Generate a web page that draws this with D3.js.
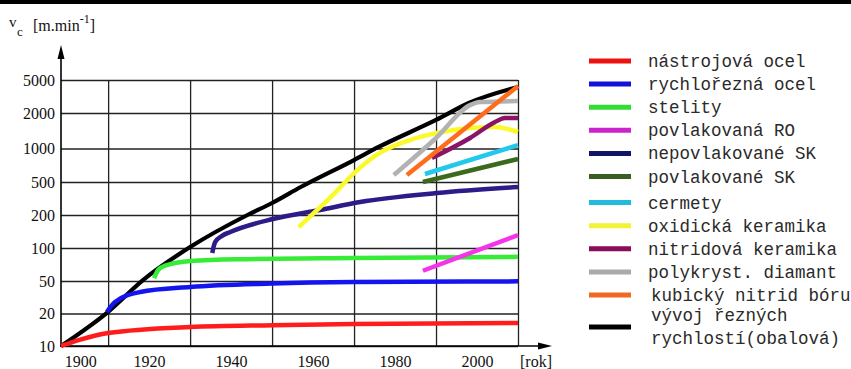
<!DOCTYPE html>
<html>
<head>
<meta charset="utf-8">
<script src="https://cdn.jsdelivr.net/npm/d3@7"></script>
<style>
  body { margin: 0; background: #fff; }
  svg { display: block; }
</style>
</head>
<body>
<svg id="chart" width="851" height="369"></svg>
<script>
// osa y: nestejnomerne logaritmicke deleni 1-2-5
var yTicks = [10, 20, 50, 100, 200, 500, 1000, 2000, 5000];
var xLabels = [1900, 1920, 1940, 1960, 1980, 2000];
var xGrid = [1910, 1930, 1950, 1970, 1990, 2010];

// [rok, vc]
var obalova = [[1898.5,10],[1910,21],[1918.5,51],[1930,102],[1944,200],[1950,279],[1957,435],[1970,788],[1976,1030],[1990,1745],[1998,2640],[2010,4120]];
var nastrojova = [[1898.5,10],[1903,11.4],[1910,13.2],[1930,15],[1950,15.6],[1970,16],[2010,16.3]];
var rychlorezna = [[1909.7,20.9],[1911.7,27.6],[1917.8,36.6],[1930,42.2],[1950,46.5],[1970,48.5],[2010,49.5]];
var stelity = [[1921.2,53],[1922.2,63],[1923.9,69],[1930.2,76],[1942,79],[1970,81],[2010,83]];
var povlakRO = [[1986.8,62],[2010,131]];
var nepovlakSK = [[1935.4,90],[1936.1,113],[1937.8,129],[1939.8,140],[1950.2,184],[1961.7,230],[1971.5,287],[1990.2,368],[2010,435]];
var povlakSK = [[1986.8,500],[2010,805]];
var cermety = [[1987.3,590],[2010,1070]];
var oxidicka = [[1956.5,155],[1964.1,321],[1971.4,670],[1976.3,913],[1983.6,1180],[1990,1350],[1998.3,1490],[2004.4,1520],[2010,1380]];
var nitridova = [[1989,821],[1998.3,1228],[2004.4,1678],[2006.8,1815],[2010,1815]];
var diamant = [[1979.7,578],[1990,1228],[1998.3,2490],[2000.7,2710],[2010,2790]];
var kubicky = [[1982.9,578],[2010,4230]];

var labels = ["nástrojová ocel", "rychlořezná ocel", "stelity", "povlakovaná RO",
  "nepovlakované SK", "povlakované SK", "cermety", "oxidická keramika",
  "nitridová keramika", "polykryst. diamant", "kubický nitrid bóru"];
var lineColors = ["#ff1c1c", "#1414ee", "#36ec36", "#f534ea", "#2e1a88", "#3b6a1c",
  "#22c8ee", "#fafa2a", "#8a1468", "#b2b2b2", "#ff6c1c"];
var legendColors = ["#ee1111", "#1111dd", "#33dd33", "#cc22cc", "#141466", "#3a5e22",
  "#22bbdd", "#f2f236", "#880c5a", "#aaaaaa", "#ee6a22"];
var seriesData = [nastrojova, rychlorezna, stelity, povlakRO, nepovlakSK, povlakSK,
  cermety, oxidicka, nitridova, diamant, kubicky];

var svg = d3.select("#chart");

var x = d3.scaleLinear().domain([1898.5, 2010]).range([61, 518]);
var y = d3.scaleLog().domain(yTicks).range([346, 313.5, 281, 248, 215, 182, 148.5, 113, 80]);

// horni okraj tabulky
svg.append("rect").attr("x", 0).attr("y", 0).attr("width", 851).attr("height", 4).attr("fill", "#000");

// mrizka + popisky y
var yAxis = svg.append("g")
    .attr("transform", "translate(61,0)")
    .call(d3.axisLeft(y).tickValues(yTicks).tickFormat(d3.format("d"))
      .tickSizeInner(-457).tickSizeOuter(0).tickPadding(6));
yAxis.select(".domain").remove();
yAxis.selectAll("line").attr("stroke", "#222").attr("stroke-width", 1.3);
yAxis.selectAll("text").attr("font-family", "Liberation Serif").attr("font-size", 16).attr("fill", "#111");

// svisla mrizka
var xGridG = svg.append("g")
    .attr("transform", "translate(0,346)")
    .call(d3.axisBottom(x).tickValues(xGrid).tickFormat("").tickSizeInner(-266).tickSizeOuter(0));
xGridG.select(".domain").remove();
xGridG.selectAll("line").attr("stroke", "#222").attr("stroke-width", 1.3);

// popisky x
var xAxis = svg.append("g")
    .attr("transform", "translate(0,346)")
    .call(d3.axisBottom(x).tickValues(xLabels).tickFormat(d3.format("d")).tickSize(0).tickPadding(10));
xAxis.select(".domain").remove();
xAxis.selectAll("text").attr("font-family", "Liberation Serif").attr("font-size", 16).attr("fill", "#111")
    .attr("dx", function(d) { return d == 1900 ? 13 : 0; });

svg.append("text").attr("x", 536).attr("y", 346 + 10).attr("dy", "0.71em")
    .attr("text-anchor", "middle").attr("font-family", "Liberation Serif").attr("font-size", 16)
    .attr("fill", "#111").text("[rok]");

// osy se sipkami
svg.append("line").attr("x1", 61).attr("y1", 347).attr("x2", 61).attr("y2", 55)
    .attr("stroke", "#000").attr("stroke-width", 1.6);
svg.append("path").attr("d", "M61,45 L57.5,59 L64.5,59 Z").attr("fill", "#000");
svg.append("line").attr("x1", 60).attr("y1", 346).attr("x2", 542).attr("y2", 346)
    .attr("stroke", "#000").attr("stroke-width", 1.6);
svg.append("path").attr("d", "M552,346 L538,342.5 L538,349.5 Z").attr("fill", "#000");

// nazev osy y
svg.append("text").attr("x", 9).attr("y", 27).attr("font-family", "Liberation Serif")
    .attr("font-size", 15).attr("fill", "#111").text("v");
svg.append("text").attr("x", 17).attr("y", 36).attr("font-family", "Liberation Serif")
    .attr("font-size", 13).attr("fill", "#111").text("c");
var yt = svg.append("text").attr("font-family", "Liberation Serif").attr("fill", "#111");
yt.append("tspan").attr("x", 33).attr("y", 31).attr("font-size", 16).text("[m.min");
yt.append("tspan").attr("y", 23).attr("font-size", 12).text("-1");
yt.append("tspan").attr("y", 31).attr("font-size", 16).text("]");

var line = d3.line()
    .x(function(d) { return x(d[0]); })
    .y(function(d) { return y(d[1]); })
    .curve(d3.curveMonotoneX);

svg.append("path").datum(obalova)
    .attr("d", line).attr("fill", "none").attr("stroke", "#000").attr("stroke-width", 4.2);

var order = [0, 1, 2, 4, 3, 7, 5, 6, 8, 9, 10];
order.forEach(function(i) {
  svg.append("path").datum(seriesData[i])
      .attr("d", line)
      .attr("fill", "none")
      .attr("stroke", lineColors[i])
      .attr("stroke-width", 4.5)
      .attr("stroke-linecap", "butt");
});

// legenda
var legend = svg.append("g")
    .attr("font-family", "Liberation Mono").attr("font-size", 17.5).attr("fill", "#2a2a2a");
labels.forEach(function(name, i) {
  var ly = 61 + i * 23.1 + (i >= 6 ? 3 : 0);
  legend.append("line").attr("x1", 589).attr("x2", 631).attr("y1", ly).attr("y2", ly)
      .attr("stroke", legendColors[i]).attr("stroke-width", 5);
  legend.append("text").attr("x", i == 10 ? 651 : 648).attr("y", ly + 6).text(name);
});
legend.append("line").attr("x1", 589).attr("x2", 631).attr("y1", 327).attr("y2", 327)
    .attr("stroke", "#000").attr("stroke-width", 5);
legend.append("text").attr("x", 651).attr("y", 321).text("vývoj řezných");
legend.append("text").attr("x", 651).attr("y", 344).text("rychlostí(obalová)");
</script>
</body>
</html>
